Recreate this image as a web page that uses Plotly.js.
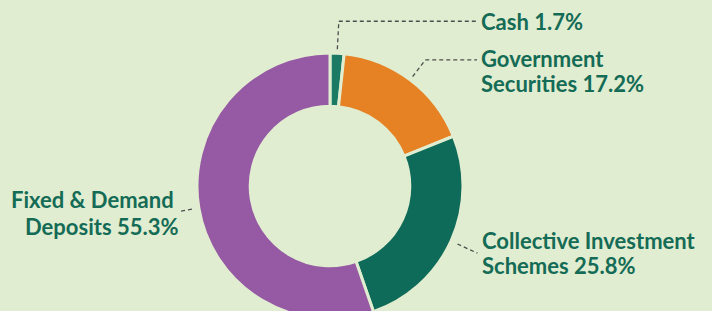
<!DOCTYPE html>
<html>
<head>
<meta charset="utf-8">
<script src="https://cdn.plot.ly/plotly-3.0.1.min.js"></script>
<style>
html,body{margin:0;padding:0;overflow:hidden;background:#E1EDD0;width:712px;height:311px;}
#chart{width:712px;height:340px;}
</style>
</head>
<body>
<div id="chart"></div>
<script>
// ---- data ----
const categories = ["Cash", "Government Securities", "Collective Investment Schemes", "Fixed & Demand Deposits"];
const values = [1.7, 17.2, 25.8, 55.3];
const labelLines = [["Cash 1.7%"], ["Government", "Securities 17.2%"], ["Collective Investment", "Schemes 25.8%"], ["Fixed & Demand", "Deposits 55.3%"]];
const colors = ["#1B7A64", "#E68224", "#0F6B59", "#955AA3"];

// ---- layout constants (pixels) ----
const W = 712, H = 340;
const BG = "#E1EDD0";
const cx = 330, cy = 186, R = 133;
// per-line label placements: [x, y(center)] ; anchor per label
const labelPos = [
  [[479, 21]],
  [[479, 58.5], [479, 83]],
  [[480, 240], [480, 265.5]],
  [[176, 199], [180, 226]]
];
const labelAnchor = ["left", "left", "left", "right"];
// leader: start radius, elbow radius, horizontal end x (null = none)
const leaders = [
  [137, 165, 477],
  [137, 158, 477],
  [140, 162, null],
  [140, 151, null]
];

const px = x => x / W;
const py = y => 1 - y / H;

const total = values.reduce((a, b) => a + b, 0);
let cum = 0;
const shapes = [];
const annotations = [];
values.forEach((v, i) => {
  const mid = (cum + v / 2) / total * 2 * Math.PI;
  cum += v;
  const s = Math.sin(mid), c = Math.cos(mid);
  const [r0, r1, hx] = leaders[i];
  const x0 = cx + r0 * s, y0 = cy - r0 * c;
  const x1 = cx + r1 * s, y1 = cy - r1 * c;
  const line = {color: "#4d4d4d", width: 1.3, dash: "4px,3px"};
  shapes.push({type: "line", xref: "paper", yref: "paper", x0: px(x0), y0: py(y0), x1: px(x1), y1: py(y1), line});
  if (hx !== null) {
    shapes.push({type: "line", xref: "paper", yref: "paper", x0: px(x1), y0: py(y1), x1: px(hx), y1: py(y1), line});
  }
  labelLines[i].forEach((t, j) => {
    const [lx, ly] = labelPos[i][j];
    annotations.push({
      text: t, xref: "paper", yref: "paper", x: px(lx), y: py(ly),
      xanchor: labelAnchor[i], yanchor: "middle", showarrow: false,
      font: {family: "Lato, sans-serif", size: 22, color: "#146B56", weight: "bold"}
    });
  });
});

const trace = {
  type: "pie",
  labels: categories,
  values: values,
  sort: false,
  direction: "clockwise",
  rotation: 0,
  hole: 0.6,
  textinfo: "none",
  hoverinfo: "none",
  marker: {colors: colors, line: {color: BG, width: 3}},
  domain: {x: [px(cx - R), px(cx + R)], y: [py(cy + R), py(cy - R)]},
  showlegend: false
};

Plotly.newPlot("chart", [trace], {
  width: W, height: H,
  margin: {l: 0, r: 0, t: 0, b: 0},
  paper_bgcolor: BG, plot_bgcolor: BG,
  shapes, annotations,
  showlegend: false
}, {displayModeBar: false, staticPlot: true});
</script>
</body>
</html>
